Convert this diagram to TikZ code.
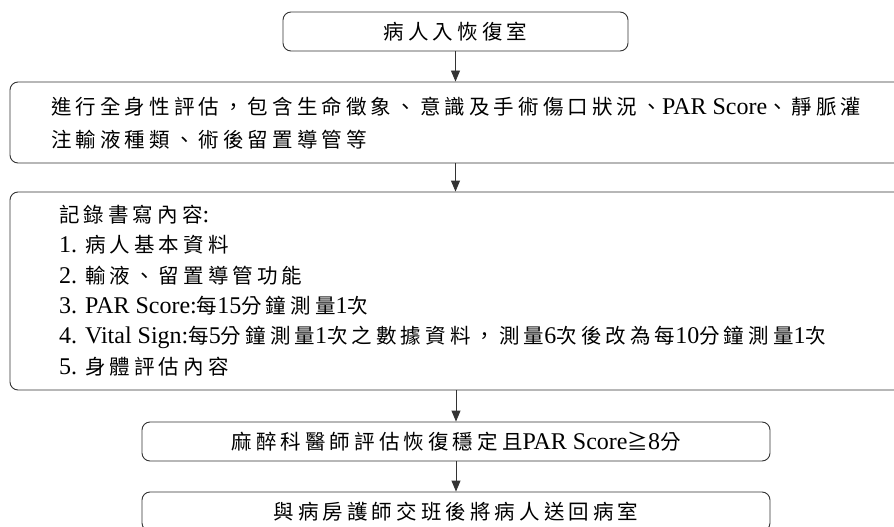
\documentclass[tikz,border=0pt]{standalone}
\usepackage{fontspec}
\setmainfont{Noto Sans CJK TC}[LetterSpace=20]
\newfontfamily\latf{Liberation Serif}[Scale=1.17]
\newcommand\la[1]{{\latf #1}}
\usetikzlibrary{arrows.meta}
\begin{document}
\begin{tikzpicture}[x=1pt,y=-1pt,
  box/.style={draw=black!80,line width=0.9pt,rounded corners=8pt,inner sep=0pt},
  txt/.style={inner sep=0pt,align=left,font=\fontsize{20.5}{30.3}\selectfont},
  one/.style={font=\fontsize{20.5}{26}\selectfont},
  arr/.style={draw=black!80,line width=0.9pt,-{Triangle[length=11pt,width=9pt]}}]
\useasboundingbox (0,0) rectangle (894,527);
\node[box,one,minimum width=345pt,minimum height=39pt] (b1) at (455.5,31.5) {病人入恢復室};
\node[box,minimum width=900pt,minimum height=81pt] (b2) at (460,122.5) {};
\node[txt,anchor=west,font=\fontsize{20.5}{33}\selectfont] (t2) at (51,123.5) {進行全身性評估，包含生命徵象、意識及手術傷口狀況、\la{PAR Score}、靜脈灌\\注輸液種類、術後留置導管等};
\node[box,minimum width=900pt,minimum height=198pt] (b3) at (460,291) {};
\node[txt,anchor=west] (t3) at (59,290.5) {記錄書寫內容\la{:}\\\la{1. }病人基本資料\\\la{2. }輸液、留置導管功能\\\la{3. PAR Score:}每\la{15}分鐘測量\la{1}次\\\la{4. Vital Sign:}每\la{5}分鐘測量\la{1}次之數據資料，測量\la{6}次後改為每\la{10}分鐘測量\la{1}次\\\la{5. }身體評估內容};
\node[box,one,minimum width=628pt,minimum height=39pt] (b4) at (456,441.5) {麻醉科醫師評估恢復穩定且\la{PAR Score}≧\la{8}分};
\node[box,one,minimum width=628pt,minimum height=39pt] (b5) at (456,511.5) {與病房護師交班後將病人送回病室};
\draw[arr] (b1.south) -- (b1.south |- b2.north);
\draw[arr] (b2.south -| b1.south) -- (b1.south |- b3.north);
\draw[arr] (b3.south -| b4.north) -- (b4.north);
\draw[arr] (b4.south) -- (b5.north);
\end{tikzpicture}
\end{document}
